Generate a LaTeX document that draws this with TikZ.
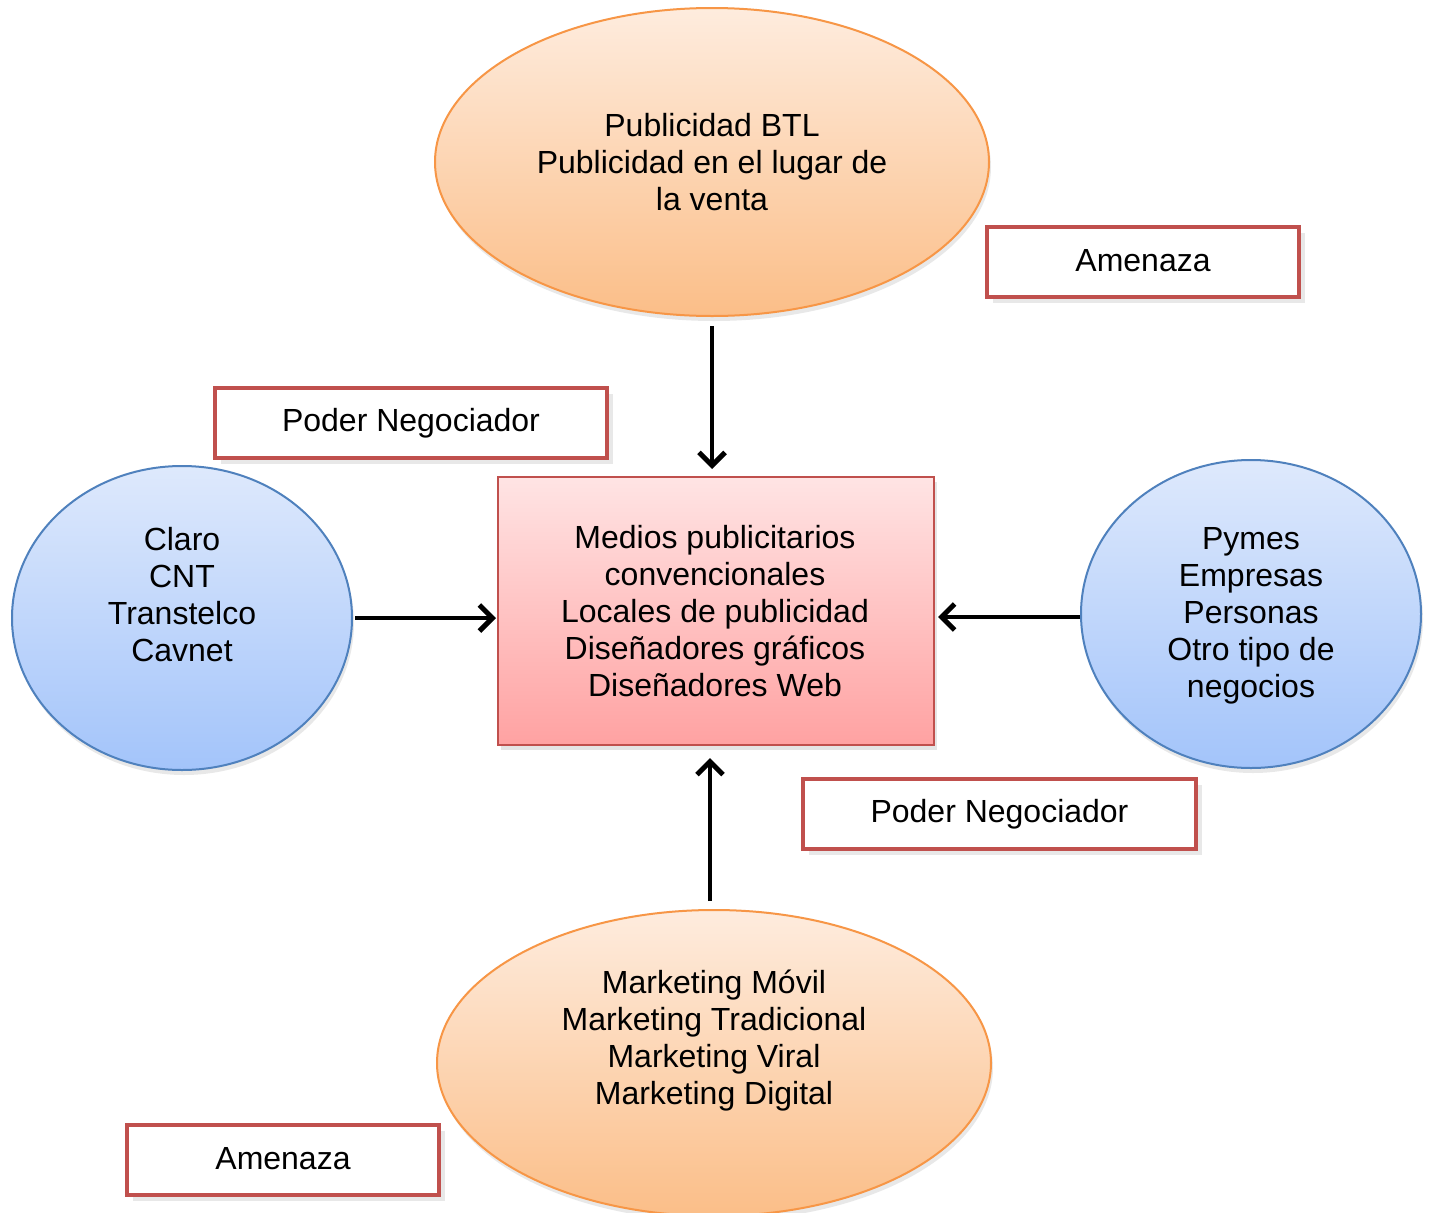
\documentclass[tikz,border=0pt]{standalone}
\usepackage{fontspec}
\setmainfont{Liberation Sans}
\usetikzlibrary{shapes.geometric,arrows.meta,shadows}
\definecolor{orTop}{RGB}{254,236,222}
\definecolor{orBot}{RGB}{251,190,136}
\definecolor{orLine}{RGB}{247,150,70}
\definecolor{blTop}{RGB}{222,233,252}
\definecolor{blBot}{RGB}{163,196,250}
\definecolor{blLine}{RGB}{79,129,189}
\definecolor{rdTop}{RGB}{255,228,228}
\definecolor{rdBot}{RGB}{255,162,162}
\definecolor{rdLine}{RGB}{192,80,77}
\tikzset{
  txt/.style={font=\fontsize{32}{37}\selectfont, align=center, text=black},
  oval/.style={ellipse, draw=orLine, line width=2pt, top color=orTop, bottom color=orBot,
     inner sep=0pt, drop shadow={opacity=0.18, shadow xshift=2pt, shadow yshift=-5pt}},
  bluecirc/.style={ellipse, draw=blLine, line width=2pt, top color=blTop, bottom color=blBot,
     inner sep=0pt, minimum width=340pt, minimum height=304pt,
     drop shadow={opacity=0.18, shadow xshift=2pt, shadow yshift=-5pt}},
  centerbox/.style={rectangle, draw=rdLine, line width=2pt, top color=rdTop, bottom color=rdBot,
     minimum width=436pt, minimum height=268pt, inner sep=0pt,
     drop shadow={opacity=0.2, shadow xshift=3pt, shadow yshift=-5pt}},
  tag/.style={rectangle, draw=rdLine, line width=4pt, fill=white, inner sep=0pt,
     drop shadow={opacity=0.18, shadow xshift=6pt, shadow yshift=-6pt},
     font=\fontsize{32}{37}\selectfont},
  arr/.style={line width=4pt, -{Straight Barb[length=13pt,width=26pt,line width=5pt]}}
}
\begin{document}
\begin{tikzpicture}[x=1pt,y=-1pt]
\useasboundingbox (0,0) rectangle (1433,1213);
\clip (0,0) rectangle (1433,1213);
\fill[white] (0,0) rectangle (1433,1213);

% top ellipse
\node[oval, minimum width=554pt, minimum height=308pt] (top) at (712,162) {};
\node[txt] (topText) at (712,162) {Publicidad BTL\\Publicidad en el lugar de\\la venta};

% bottom ellipse
\node[oval, minimum width=554pt, minimum height=306pt] (bot) at (714,1063) {};
\node[txt] (botText) at (714,1041) {Marketing Móvil\\Marketing Tradicional\\Marketing Viral\\Marketing Digital};

% left circle
\node[bluecirc] (left) at (182,618) {};
\node[txt] (leftText) at (182,595) {Claro\\CNT\\Transtelco\\Cavnet};

% right circle
\node[bluecirc, minimum height=308pt] (right) at (1251,614) {};
\node[txt] (rightText) at (1251,616) {Pymes\\Empresas\\Personas\\Otro tipo de\\negocios};

% center box
\node[centerbox] (center) at (716,611) {};
\node[txt] (centerText) at (715,611) {Medios publicitarios\\convencionales\\Locales de publicidad\\Diseñadores gráficos\\Diseñadores Web};

% tags
\node[tag, minimum width=312pt, minimum height=70pt] (amen1) at (1143,262) {\raisebox{4pt}{Amenaza}};
\node[tag, minimum width=392pt, minimum height=70pt] (poder1) at (411,423) {\raisebox{3pt}{Poder Negociador}};
\node[tag, minimum width=393pt, minimum height=70pt] (poder2) at (999.5,814) {\raisebox{3pt}{Poder Negociador}};
\node[tag, minimum width=312pt, minimum height=70pt] (amen2) at (283,1160) {\raisebox{4pt}{Amenaza}};

% arrows
\draw[arr, shorten <=9pt, shorten >=7pt] (top.south) -- (top.south |- center.north);
\draw[arr, shorten <=8pt, shorten >=12pt] ([xshift=-4pt]bot.north) -- ([xshift=-4pt]bot.north |- center.south);
\draw[arr, shorten <=2pt, shorten >=1pt] (left.east) -- (left.east -| center.west);
\draw[arr, shorten <=0pt, shorten >=3pt] ([yshift=-3pt]right.west) -- ([yshift=-3pt]right.west -| center.east);
\end{tikzpicture}
\end{document}
